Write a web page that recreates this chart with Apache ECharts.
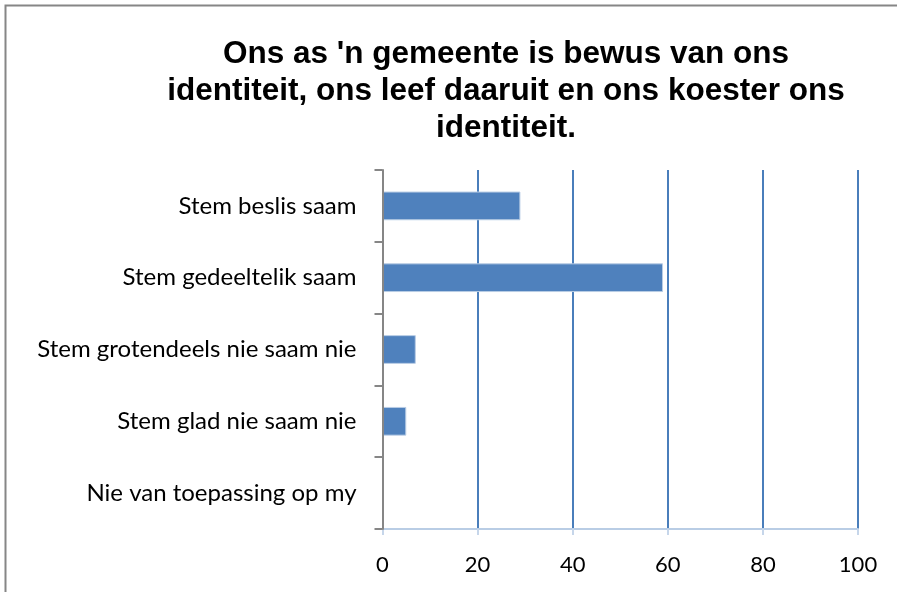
<!DOCTYPE html>
<html>
<head>
<meta charset="utf-8">
<script src="https://cdn.jsdelivr.net/npm/echarts@6/dist/echarts.min.js"></script>
<style>
  html, body { margin: 0; padding: 0; background: #fff; }
  #chart { width: 897px; height: 592px; }
</style>
</head>
<body>
<div id="chart"></div>
<script>
// Chart data
const categories = [
    "Stem beslis saam",
    "Stem gedeeltelik saam",
    "Stem grotendeels nie saam nie",
    "Stem glad nie saam nie",
    "Nie van toepassing op my"
];
const values = [29, 59, 7, 5, 0];
const valueTicks = [0, 20, 40, 60, 80, 100];

const chartTitle = "Ons as 'n gemeente is bewus van ons\nidentiteit, ons leef daaruit en ons koester ons\nidentiteit.";

const myChart = echarts.init(document.getElementById("chart"));

const option = {
    animation: false,
    graphic: [
        {
            type: "rect",
            shape: { x: 5.5, y: 5.5, width: 1000, height: 1000 },
            style: { fill: "none", stroke: "#868686", lineWidth: 2 },
            z: 100,
        },
    ],
    title: {
        text: chartTitle,
        left: 501,
        textAlign: "center",
        top: 31,
        textStyle: {
            fontFamily: "Liberation Sans, Arial, sans-serif",
            fontWeight: "bold",
            fontSize: 31.5,
            lineHeight: 37,
            color: "#000",
        },
    },
    grid: {
        left: 382.5,
        right: 39,
        top: 170,
        bottom: 63,
        containLabel: false,
    },
    xAxis: {
        type: "value",
        min: valueTicks[0],
        max: valueTicks[valueTicks.length - 1],
        interval: 20,
        axisLine: {
            show: true,
            lineStyle: { color: "#b9cde5", width: 2 },
        },
        axisTick: {
            show: true,
            length: 6,
            lineStyle: { color: "#c6d6ea", width: 2 },
        },
        axisLabel: {
            color: "#000",
            fontFamily: "Lato, Open Sans, sans-serif",
            fontSize: 22,
            margin: 25,
        },
        splitLine: {
            show: true,
            lineStyle: { color: "#4a7ebb", width: 2 },
        },
    },
    yAxis: {
        type: "category",
        data: categories,
        inverse: true,
        z: 5,
        axisLine: {
            show: true,
            lineStyle: { color: "#868686", width: 2 },
        },
        axisTick: {
            show: true,
            length: 8,
            lineStyle: { color: "#868686", width: 2 },
        },
        axisLabel: {
            color: "#000",
            fontFamily: "Lato, Open Sans, sans-serif",
            fontSize: 24,
            margin: 26,
        },
        splitLine: { show: false },
    },
    series: [
        {
            type: "bar",
            data: values,
            barCategoryGap: "60%",
            z: 3,
            itemStyle: {
                color: "#4f81bd",
                borderColor: "#b9cde5",
                borderWidth: 1,
            },
        },
    ],
};

myChart.setOption(option);
</script>
</body>
</html>
